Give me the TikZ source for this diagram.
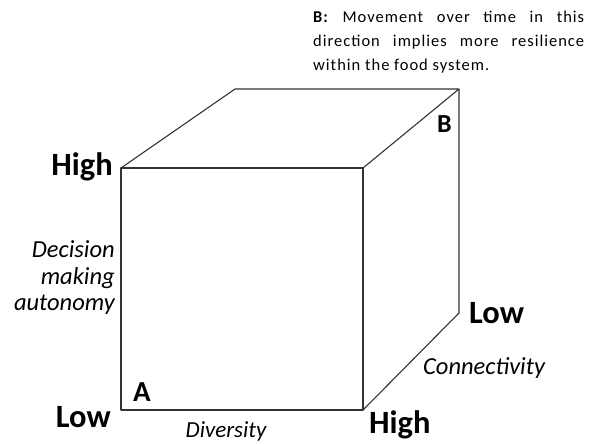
\documentclass[tikz,border=0pt]{standalone}
\usepackage{fontspec}
\setmainfont{Carlito}
\tikzset{
  edge/.style={line width=1.1pt, black!80, line join=round},
  level/.style={font=\fontsize{32.5}{32.5}\selectfont\bfseries, inner sep=0pt},
  corner/.style={font=\fontsize{29}{29}\selectfont\bfseries, inner sep=0pt},
  axis/.style={font=\fontsize{24.5}{26.5}\selectfont\itshape, inner sep=0pt, align=right}
}
\begin{document}
\begin{tikzpicture}[x=1pt, y=-1pt]
    \useasboundingbox (0,0) rectangle (594,444);
    % Corners of the cube
    \coordinate (fbl) at (121,410);
    \coordinate (fbr) at (363,410);
    \coordinate (ftr) at (363,168);
    \coordinate (ftl) at (121,168);
    \coordinate (btl) at (235,89);
    \coordinate (btr) at (459,89);
    \coordinate (bbr) at (459,313);
    % Front face
    \draw[edge] (fbl) -- (fbr) -- (ftr) -- (ftl) -- cycle;
    % Top and side faces
    \draw[edge] (ftl) -- (btl) -- (btr) -- (ftr);
    \draw[edge] (btr) -- (bbr) -- (fbr);
    % Levels
    \node[level, anchor=base east] (highL) at (113,175) {High};
    \node[level, anchor=base east] (lowL) at (111,427) {Low};
    \node[level, anchor=base west] (highB) at (369,433) {High};
    \node[level, anchor=base west] (lowR) at (469,323) {Low};
    % Corners A and B
    \node[corner, anchor=base west] (ptA) at (133,401) {A};
    \node[corner, anchor=base west, font=\fontsize{26}{26}\selectfont\bfseries] (ptB) at (437,132) {B};
    % Axis names
    \node[axis, anchor=base east] (dec) at (115,310.5) {Decision\\making\\autonomy};
    \node[axis, anchor=base, font=\fontsize{23}{23}\selectfont\itshape] (div) at (226,437) {Diversity};
    \node[axis, anchor=base west] (con) at (423,374) {Connectivity};
    % Note on B
    \node[anchor=base west, inner sep=0pt, text width=271pt, align=justify,
      font=\fontsize{16.5}{23.6}\selectfont\addfontfeatures{LetterSpace=6}] (note) at (313,23)
      {\textbf{B:} Movement over time in this\linebreak direction implies more resilience\linebreak within the food system.};
\end{tikzpicture}
\end{document}
